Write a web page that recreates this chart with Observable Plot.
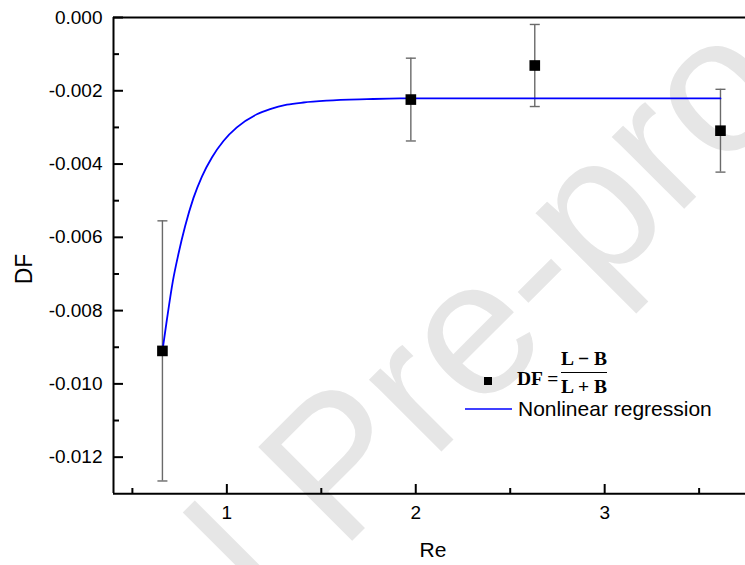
<!DOCTYPE html>
<html>
<head>
<meta charset="utf-8">
<script src="https://cdn.jsdelivr.net/npm/d3@7"></script>
<script src="https://cdn.jsdelivr.net/npm/@observablehq/plot@0.6"></script>
<style>
  html, body { margin: 0; padding: 0; background: #fff; overflow: hidden; }
  #chart { width: 745px; height: 565px; position: relative; }
</style>
</head>
<body>
<div id="chart"></div>
<script>
// Measured drag factor DF = (L - B) / (L + B) against Reynolds number, with error bars
const reynolds   = [0.659, 1.974, 2.630, 3.613];
const dragFactor = [-0.00910, -0.00224, -0.00131, -0.00309];
const dfError    = [0.00355, 0.00113, 0.00112, 0.00113];

// Nonlinear regression curve through the measurements
const fitRe = [0.659, 0.682, 0.714, 0.744, 0.779, 0.823, 0.868, 0.921, 0.982, 1.053,
               1.159, 1.229, 1.318, 1.406, 1.530, 1.742, 1.918, 3.613];
const fitDF = [-0.00910, -0.00827, -0.00720, -0.00645, -0.00570, -0.00493, -0.00434,
               -0.00382, -0.00337, -0.00300, -0.00264, -0.00250, -0.00238, -0.00232,
               -0.00227, -0.00223, -0.00221, -0.00221];

// Axis ticks
const xMajor = [1, 2, 3];
const xMinor = [0.5, 1.5, 2.5, 3.5];
const yMajor = [0, -0.002, -0.004, -0.006, -0.008, -0.010, -0.012];
const yMinor = [-0.001, -0.003, -0.005, -0.007, -0.009, -0.011];
const xDomain = [0.4, 3.8];
const yDomain = [-0.013, 0];

const points = reynolds.map((re, i) => ({
  re, df: dragFactor[i], lo: dragFactor[i] - dfError[i], hi: dragFactor[i] + dfError[i]
}));
const fit = fitRe.map((re, i) => ({re, df: fitDF[i]}));

// Short horizontal cap for the error bars
const capSymbol = {draw(ctx) { ctx.moveTo(-5, 0); ctx.lineTo(5, 0); }};

const font = "'Liberation Sans', Arial, Helvetica, sans-serif";
const serif = "'Liberation Serif', 'Times New Roman', serif";

const chart = Plot.plot({
  width: 745,
  height: 565,
  marginLeft: 113,
  marginTop: 17,
  marginRight: 0,
  marginBottom: 72,
  style: {fontFamily: font, fontSize: "19px", color: "#000", background: "transparent", overflow: "hidden"},
  x: {domain: xDomain, range: [113, 755.3]},
  y: {domain: yDomain, range: [493.3, 17]},
  marks: [
    // error bars
    Plot.ruleX(points, {x: "re", y1: "lo", y2: "hi", stroke: "#6a6a6a", strokeWidth: 1.4}),
    Plot.dot(points, {x: "re", y: "lo", symbol: capSymbol, stroke: "#6a6a6a", strokeWidth: 1.4, r: 3}),
    Plot.dot(points, {x: "re", y: "hi", symbol: capSymbol, stroke: "#6a6a6a", strokeWidth: 1.4, r: 3}),
    // regression curve
    Plot.line(fit, {x: "re", y: "df", stroke: "#0000ff", strokeWidth: 1.8, curve: "monotone-x"}),
    // measurements
    Plot.dot(points, {x: "re", y: "df", symbol: "square", r: 6, fill: "#000", stroke: "none"}),
    // plot box: left, bottom and top edges
    Plot.ruleX([xDomain[0]], {stroke: "#000", strokeWidth: 2}),
    Plot.ruleY([yDomain[0]], {stroke: "#000", strokeWidth: 2}),
    Plot.ruleY([yDomain[1]], {stroke: "#000", strokeWidth: 1.8}),
    // axes with inward ticks
    Plot.axisY(yMajor, {tickSize: -10, tickPadding: 21, strokeWidth: 2, label: null,
                        tickFormat: d => d.toFixed(3), fill: "#000"}),
    Plot.axisY(yMinor, {tickSize: -6, strokeWidth: 2, label: null, tickFormat: () => ""}),
    Plot.axisX(xMajor, {tickSize: -9, tickPadding: 21, strokeWidth: 2, label: null,
                        tickFormat: d => String(d), fill: "#000"}),
    Plot.axisX(xMinor, {tickSize: -5, strokeWidth: 2, label: null, tickFormat: () => ""})
  ]
});

document.getElementById("chart").appendChild(chart);

const svg = d3.select(chart);

// "Journal Pre-proof" stamp behind the data
const stamp = svg.insert("g", ":first-child")
  .attr("transform", "translate(341,552) rotate(-45)")
  .attr("fill", "#e6e6e6")
  .attr("font-family", font)
  .attr("font-size", 193);
stamp.append("text").attr("x", -54).attr("text-anchor", "end").text("Journal");
stamp.append("text").attr("x", 0).attr("text-anchor", "start").text("Pre-proof");

// Axis titles
svg.append("text")
  .attr("x", 433).attr("y", 557)
  .attr("text-anchor", "middle")
  .attr("font-family", font).attr("font-size", 21)
  .attr("fill", "#000")
  .text("Re");
svg.append("text")
  .attr("transform", "translate(32,269) rotate(-90)")
  .attr("text-anchor", "middle")
  .attr("font-family", font).attr("font-size", 23)
  .attr("fill", "#000")
  .text("DF");

// Legend
const legend = svg.append("g").attr("text-anchor", "start");
legend.append("rect")
  .attr("x", 484).attr("y", 377).attr("width", 8).attr("height", 8)
  .attr("fill", "#000");
legend.append("text")
  .attr("x", 517).attr("y", 385)
  .attr("text-anchor", "start")
  .attr("font-family", serif).attr("font-weight", "bold").attr("font-size", 19.5)
  .attr("fill", "#000")
  .text("DF =");
legend.append("text")
  .attr("x", 584).attr("y", 365)
  .attr("text-anchor", "middle")
  .attr("font-family", serif).attr("font-weight", "bold").attr("font-size", 19.5)
  .attr("fill", "#000")
  .text("L \u2212 B");
legend.append("line")
  .attr("x1", 561).attr("x2", 607).attr("y1", 372.5).attr("y2", 372.5)
  .attr("stroke", "#000").attr("stroke-width", 1);
legend.append("text")
  .attr("x", 584).attr("y", 393)
  .attr("text-anchor", "middle")
  .attr("font-family", serif).attr("font-weight", "bold").attr("font-size", 19.5)
  .attr("fill", "#000")
  .text("L + B");
legend.append("line")
  .attr("x1", 465).attr("x2", 512).attr("y1", 409).attr("y2", 409)
  .attr("stroke", "#0000ff").attr("stroke-width", 1.6);
legend.append("text")
  .attr("x", 518).attr("y", 416)
  .attr("text-anchor", "start")
  .attr("font-family", font).attr("font-size", 21)
  .attr("fill", "#000")
  .text("Nonlinear regression");
</script>
</body>
</html>
